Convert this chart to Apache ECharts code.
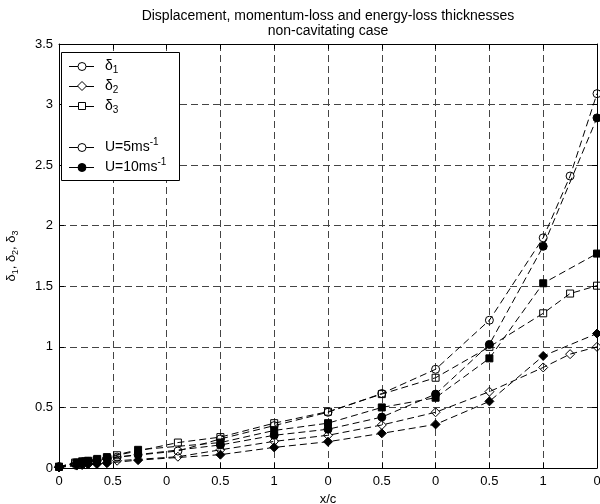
<!DOCTYPE html>
<html><head><meta charset="utf-8">
<script src="https://cdn.jsdelivr.net/npm/echarts@6/dist/echarts.min.js"></script>
<style>html,body{margin:0;padding:0;background:#fff}#c{width:600px;height:504px}</style>
</head><body><div id="c"></div>
<script>
// ---- data ----
const titleLines = ['Displacement, momentum-loss and energy-loss thicknesses', 'non-cavitating case'];
const xTickLabels = ['0', '0.5', '0', '0.5', '1', '0', '0.5', '0', '0.5', '1', '0'];
const xName = 'x/c';
const xU5  = [0, 0.03, 0.05, 0.07, 0.09, 0.108, 0.221, 0.3, 0.4, 0.5, 0.6, 0.7, 0.8, 0.9, 0.95, 1.0];
const u5d1 = [0.01, 0.04, 0.05, 0.06, 0.08, 0.09, 0.14, 0.24, 0.35, 0.46, 0.615, 0.815, 1.22, 1.90, 2.41, 3.09];
const u5d2 = [0.005, 0.025, 0.03, 0.035, 0.045, 0.06, 0.093, 0.15, 0.22, 0.27, 0.355, 0.46, 0.63, 0.83, 0.94, 1.0];
const u5d3 = [0.01, 0.045, 0.055, 0.065, 0.08, 0.105, 0.21, 0.255, 0.37, 0.465, 0.61, 0.745, 1.0, 1.277, 1.44, 1.505];
const xU10  = [0, 0.033, 0.043, 0.054, 0.071, 0.089, 0.147, 0.3, 0.4, 0.5, 0.6, 0.7, 0.8, 0.9, 1.0];
const u10d1 = [0.01, 0.04, 0.05, 0.055, 0.065, 0.08, 0.11, 0.19, 0.27, 0.32, 0.42, 0.61, 1.02, 1.83, 2.89];
const u10d2 = [0.005, 0.02, 0.025, 0.03, 0.035, 0.04, 0.065, 0.11, 0.17, 0.217, 0.286, 0.36, 0.55, 0.925, 1.11];
const u10d3 = [0.01, 0.045, 0.055, 0.06, 0.075, 0.09, 0.15, 0.21, 0.31, 0.37, 0.50, 0.58, 0.905, 1.525, 1.77];
const legendLabels = [
  '{a|δ}{b|1}', '{a|δ}{b|2}', '{a|δ}{b|3}', '', '{a|U=5ms}{c|-1}', '{a|U=10ms}{c|-1}'
];

// ---- chart ----
const FONT = 'Liberation Sans, Arial, Helvetica, sans-serif';
const zip = (xs, ys) => xs.map((x, i) => [x, ys[i]]);
const dash = [7, 4];
function mkSeries(name, xs, ys, symbol, filled, size) {
  return {
    name, type: 'line', data: zip(xs, ys), symbol, symbolSize: size,
    clip: false, animation: false,
    lineStyle: { color: '#000', width: 1, type: dash },
    itemStyle: { color: filled ? '#000' : 'rgba(0,0,0,0)', borderColor: '#000', borderWidth: 1 },
    emphasis: { disabled: true }
  };
}
const rich = {
  a: { fontFamily: FONT, fontSize: 14, color: '#000' },
  b: { fontFamily: FONT, fontSize: 10, color: '#000', padding: [9, 0, 0, 0] },
  c: { fontFamily: FONT, fontSize: 10, color: '#000', padding: [0, 0, 9, 0] }
};

// legend graphic
const legY = [66, 86, 106, 126, 147, 167];
const legMarkers = ['circle', 'diamond', 'rect', null, 'circle', 'circle'];
const legFilled = [false, false, false, false, false, true];
const legendEls = [{
  type: 'rect', shape: { x: 61.5, y: 52.5, width: 118, height: 128 },
  style: { fill: '#fff', stroke: '#000', lineWidth: 1 }, z: 100
}];
legY.forEach((y, i) => {
  if (!legMarkers[i]) return;
  const cx = 82, fill = legFilled[i] ? '#000' : '#fff';
  legendEls.push({ type: 'line', shape: { x1: 69, y1: y + 0.5, x2: 94, y2: y + 0.5 }, style: { stroke: '#000', lineWidth: 1 }, z: 101 });
  if (legMarkers[i] === 'circle') legendEls.push({ type: 'circle', shape: { cx, cy: y + 0.5, r: 4 }, style: { fill, stroke: '#000', lineWidth: 1 }, z: 102 });
  if (legMarkers[i] === 'diamond') legendEls.push({ type: 'polygon', shape: { points: [[cx, y - 4.5], [cx + 4.5, y], [cx, y + 4.5], [cx - 4.5, y]] }, style: { fill, stroke: '#000', lineWidth: 1 }, z: 102 });
  if (legMarkers[i] === 'rect') legendEls.push({ type: 'rect', shape: { x: cx - 3.5, y: y - 3.5, width: 7, height: 7 }, style: { fill, stroke: '#000', lineWidth: 1 }, z: 102 });
  legendEls.push({ type: 'text', x: 105, y: y, z: 102, style: { text: legendLabels[i], rich, verticalAlign: 'middle', align: 'left', fill: '#000' } });
});

const chart = echarts.init(document.getElementById('c'), null, { renderer: 'canvas' });
chart.setOption({
  animation: false,
  backgroundColor: '#fff',
  title: {
    text: titleLines.join('\n'), left: 328, top: 8, textAlign: 'center', padding: 0,
    textStyle: { fontFamily: FONT, fontSize: 14, fontWeight: 'normal', color: '#000', lineHeight: 15.5 }
  },
  grid: { left: 59, right: 3, top: 44, bottom: 36, containLabel: false, outerBoundsMode: 'none' },
  xAxis: [{
    type: 'value', min: 0, max: 1, interval: 0.1, position: 'bottom',
    name: xName, nameLocation: 'middle', nameGap: 20,
    nameTextStyle: { fontFamily: FONT, fontSize: 13, color: '#000' },
    axisLine: { show: true, onZero: false, lineStyle: { color: '#000', width: 1 } },
    axisTick: { show: true, inside: true, length: 5, lineStyle: { color: '#000' } },
    axisLabel: { margin: 7, fontFamily: FONT, fontSize: 13, color: '#000', hideOverlap: false,
      formatter: v => xTickLabels[Math.round(v * 10)] },
    splitLine: { show: true, lineStyle: { color: '#444', width: 1, type: dash } }
  }, {
    type: 'value', min: 0, max: 1, interval: 0.1, position: 'top',
    axisLine: { show: true, onZero: false, lineStyle: { color: '#000', width: 1 } },
    axisTick: { show: true, inside: true, length: 5, lineStyle: { color: '#000' } },
    axisLabel: { show: false }, splitLine: { show: false }
  }],
  yAxis: [{
    type: 'value', min: 0, max: 3.5, interval: 0.5, position: 'left',
    name: '{a|δ}{b|1}{a|, δ}{b|2}{a|, δ}{b|3}', nameLocation: 'middle', nameGap: 39,
    nameTextStyle: { rich: { a: { fontFamily: FONT, fontSize: 13, color: '#000' }, b: { fontFamily: FONT, fontSize: 9, color: '#000', padding: [8, 0, 0, 0] } } },
    axisLine: { show: true, onZero: false, lineStyle: { color: '#000', width: 1 } },
    axisTick: { show: true, inside: true, length: 5, lineStyle: { color: '#000' } },
    axisLabel: { margin: 6, fontFamily: FONT, fontSize: 13, color: '#000' },
    splitLine: { show: true, lineStyle: { color: '#444', width: 1, type: dash } }
  }, {
    type: 'value', min: 0, max: 3.5, interval: 0.5, position: 'right',
    axisLine: { show: true, onZero: false, lineStyle: { color: '#000', width: 1 } },
    axisTick: { show: true, inside: true, length: 5, lineStyle: { color: '#000' } },
    axisLabel: { show: false }, splitLine: { show: false }
  }],
  series: [
    mkSeries('U5 d1', xU5, u5d1, 'circle', false, 8),
    mkSeries('U5 d2', xU5, u5d2, 'diamond', false, 9),
    mkSeries('U5 d3', xU5, u5d3, 'rect', false, 7),
    mkSeries('U10 d1', xU10, u10d1, 'circle', true, 8),
    mkSeries('U10 d2', xU10, u10d2, 'diamond', true, 9),
    mkSeries('U10 d3', xU10, u10d3, 'rect', true, 7)
  ],
  graphic: legendEls
});
</script></body></html>
